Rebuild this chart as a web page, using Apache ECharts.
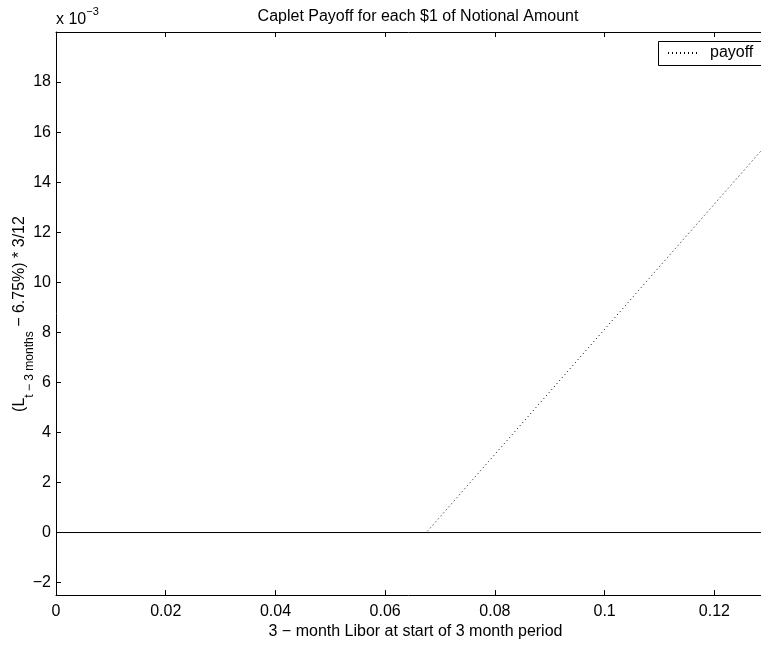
<!DOCTYPE html>
<html>
<head>
<meta charset="utf-8">
<script src="https://cdn.jsdelivr.net/npm/echarts@6/dist/echarts.min.js"></script>
<style>html,body{margin:0;padding:0;background:#fff}#c{width:761px;height:645px}</style>
</head>
<body>
<div id="c"></div>
<script>
// Data (x axis is cut off at the right edge, ~0.1285)
const libor = [0, 0.0675, 0.1285];
const payoff = [0, 0, 0.01525];
const zeroX = [0, 0.1285];
const zeroY = [0, 0];
const xTicks = [0, 0.02, 0.04, 0.06, 0.08, 0.1, 0.12];
const yTicks = [-0.002, 0, 0.002, 0.004, 0.006, 0.008, 0.010, 0.012, 0.014, 0.016, 0.018];

const FONT = '"Liberation Sans", Arial, Helvetica, sans-serif';
const chart = echarts.init(document.getElementById('c'), null, {renderer: 'canvas'});

function fmtY(v) {
  const n = Math.round(v * 1000);
  return n < 0 ? '\u2212' + Math.abs(n) : String(n);
}
function fmtX(v) {
  return String(parseFloat(v.toFixed(4)));
}

chart.setOption({
  animation: false,
  backgroundColor: '#fff',
  title: {
    text: 'Caplet Payoff for each $1 of Notional Amount',
    left: 413, top: 4, textAlign: 'center',
    textStyle: {fontFamily: FONT, fontSize: 16, fontWeight: 'normal', color: '#000'}
  },
  grid: {left: 56, top: 32, right: 0, bottom: 48, containLabel: false},
  legend: {
    data: ['payoff'],
    left: 658, top: 41, z: 10,
    padding: [4, 8, 4, 9],
    borderWidth: 0,
    itemWidth: 31, itemHeight: 14,
    itemStyle: {opacity: 0},
    textStyle: {fontFamily: FONT, fontSize: 16, color: '#000', padding: [0, 0, 0, 6]}
  },
  xAxis: [{
    type: 'value', min: 0, max: 0.1285,
    name: '3 \u2212 month Libor at start of 3 month period',
    nameLocation: 'middle', nameGap: 26,
    nameTextStyle: {fontFamily: FONT, fontSize: 16, color: '#000', padding: [0, 0, 0, 14]},
    axisLine: {show: true, onZero: false, lineStyle: {color: '#000', width: 1}},
    axisTick: {show: true, inside: true, length: 5, lineStyle: {color: '#000'}, customValues: xTicks},
    axisLabel: {fontFamily: FONT, fontSize: 16, color: '#000', margin: 8, formatter: fmtX, customValues: xTicks},
    splitLine: {show: false}
  }, {
    type: 'value', min: 0, max: 0.1285, position: 'top',
    axisLine: {show: true, onZero: false, lineStyle: {color: '#000', width: 1}},
    axisTick: {show: true, inside: true, length: 5, lineStyle: {color: '#000'}, customValues: xTicks},
    axisLabel: {show: false},
    splitLine: {show: false}
  }],
  yAxis: [{
    type: 'value', min: -0.0025, max: 0.020,
    axisLine: {show: true, onZero: false, lineStyle: {color: '#000', width: 1}},
    axisTick: {show: true, inside: true, length: 5, lineStyle: {color: '#000'}, customValues: yTicks},
    axisLabel: {fontFamily: FONT, fontSize: 16, color: '#000', margin: 5, formatter: fmtY, customValues: yTicks},
    splitLine: {show: false}
  }],
  graphic: [{
    type: 'rect', z: 5,
    shape: {x: 658.5, y: 41.5, width: 200, height: 24},
    style: {fill: '#fff', stroke: '#000', lineWidth: 1}
  }, {
    type: 'text', left: 56, top: 6,
    style: {
      text: '{a|x 10}{b|\u22123}',
      rich: {
        a: {fontFamily: FONT, fontSize: 16, fill: '#000', lineHeight: 22, verticalAlign: 'bottom'},
        b: {fontFamily: FONT, fontSize: 11, fill: '#000', lineHeight: 22, verticalAlign: 'top'}
      }
    }
  }, {
    type: 'text', x: 24, y: 314, rotation: Math.PI / 2,
    style: {
      text: '{m|(L}{s|t \u2212 3 months}{m| \u2212 6.75%) * 3/12}',
      align: 'center', verticalAlign: 'middle',
      rich: {
        m: {fontFamily: FONT, fontSize: 16, fill: '#000', lineHeight: 24, verticalAlign: 'top'},
        s: {fontFamily: FONT, fontSize: 12, fill: '#000', lineHeight: 24, verticalAlign: 'bottom'}
      }
    }
  }],
  series: [{
    name: 'zero', type: 'line', xAxisIndex: 0, yAxisIndex: 0,
    data: zeroX.map((x, i) => [x, zeroY[i]]),
    symbol: 'none', silent: true,
    lineStyle: {color: '#000', width: 1, type: 'solid'}
  }, {
    name: 'payoff', type: 'line', xAxisIndex: 0, yAxisIndex: 0,
    data: libor.map((x, i) => [x, payoff[i]]),
    symbol: 'none', itemStyle: {color: '#000'},
    lineStyle: {color: '#000', width: 1, type: [1, 3]}
  }]
});
</script>
</body>
</html>
